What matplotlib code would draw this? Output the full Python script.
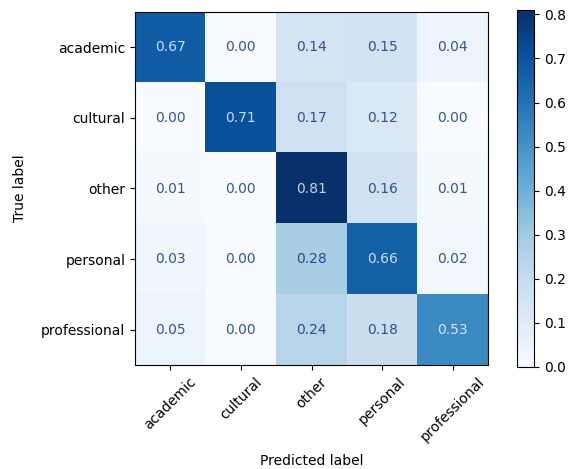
import numpy as np
import matplotlib
matplotlib.use("Agg")
import matplotlib.pyplot as plt

labels = ["academic", "cultural", "other", "personal", "professional"]

# row-normalised confusion matrix (rows = true, cols = predicted)
cm = np.array([
    [0.67, 0.00, 0.14, 0.15, 0.04],
    [0.00, 0.71, 0.17, 0.12, 0.00],
    [0.01, 0.00, 0.81, 0.16, 0.01],
    [0.03, 0.00, 0.28, 0.66, 0.02],
    [0.05, 0.00, 0.24, 0.18, 0.53],
])

fig = plt.figure(figsize=(5.70, 4.69), dpi=100)
ax = fig.add_axes([135/570, 1 - 366/469, 353/570, 355/469])
cax = fig.add_axes([517/570, 1 - 367/469, 17/570, 357/469])

cmap = plt.cm.Blues
im = ax.imshow(cm, interpolation="nearest", cmap=cmap, vmin=cm.min(), vmax=cm.max())
fig.colorbar(im, cax=cax)

# text colour flips at the midpoint, like sklearn's ConfusionMatrixDisplay
thresh = (cm.max() + cm.min()) / 2.0
lo, hi = cmap(0.0), cmap(1.0)
for i in range(cm.shape[0]):
    for j in range(cm.shape[1]):
        c = lo if cm[i, j] >= thresh else hi
        ax.text(j, i, format(cm[i, j], ".2f"), ha="center", va="center",
                color=c, alpha=0.8, fontsize=10)

ax.set_xticks(np.arange(len(labels)))
ax.set_yticks(np.arange(len(labels)))
ax.set_xticklabels(labels, rotation=45)
ax.set_yticklabels(labels)
ax.set_xlabel("Predicted label", labelpad=7)
ax.set_ylabel("True label", labelpad=10)

fig.savefig("out.png", dpi=100)
